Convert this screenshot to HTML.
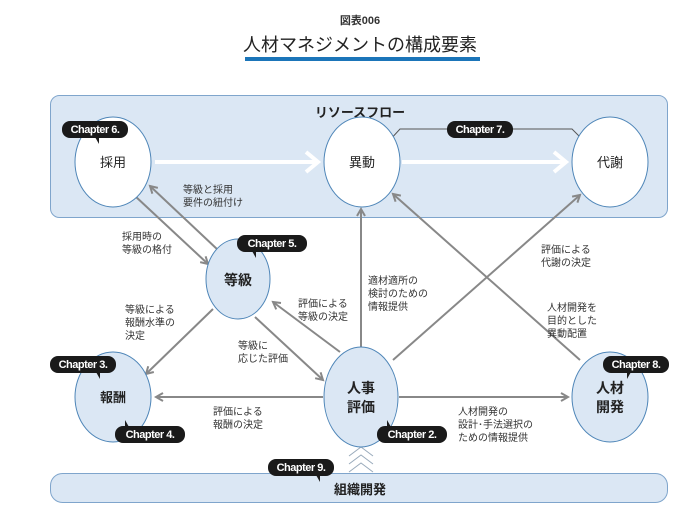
<!DOCTYPE html>
<html><head><meta charset="utf-8"><style>
html,body{margin:0;padding:0;background:#fff}
svg{display:block}
text{font-family:"Liberation Sans","Noto Sans CJK JP",sans-serif}
.l{font-size:10px;fill:#333}
.b{font-weight:bold}
.ch{font-size:11px;font-weight:bold;fill:#fff;text-anchor:middle;letter-spacing:-0.5px}
</style></head><body>
<svg width="700" height="523" viewBox="0 0 700 523">
<defs>
<marker id="a" markerWidth="10" markerHeight="10" refX="8" refY="5" orient="auto" markerUnits="userSpaceOnUse">
<path d="M1,1 L8,5 L1,9" fill="none" stroke="#888" stroke-width="2"/></marker>
<marker id="w" markerWidth="20" markerHeight="24" refX="16" refY="12" orient="auto" markerUnits="userSpaceOnUse">
<path d="M4,2 L16,12 L4,22" fill="none" stroke="#fff" stroke-width="4"/></marker>
</defs>
<text x="360" y="24" text-anchor="middle" class="b" font-size="11" fill="#333">図表006</text>
<text x="360" y="51" text-anchor="middle" font-size="18" fill="#222">人材マネジメントの構成要素</text>
<rect x="245" y="57" width="235" height="4" fill="#1b75b9"/>

<rect x="50.5" y="95.5" width="617" height="122" rx="9" fill="#dbe7f4" stroke="#7fa5cc"/>
<text x="360" y="117" text-anchor="middle" class="b" font-size="13" fill="#222">リソースフロー</text>
<rect x="50.5" y="473.5" width="617" height="29" rx="12" fill="#dbe7f4" stroke="#7fa5cc"/>
<text x="360" y="494" text-anchor="middle" class="b" font-size="13" fill="#222">組織開発</text>

<line x1="155" y1="162" x2="318" y2="162" stroke="#fff" stroke-width="4" marker-end="url(#w)"/>
<line x1="402" y1="162" x2="566" y2="162" stroke="#fff" stroke-width="4" marker-end="url(#w)"/>
<polyline points="388,142 400,129 572,129 586,143" fill="none" stroke="#555" stroke-width="1"/>

<g stroke="#888" stroke-width="2" fill="none" marker-end="url(#a)">
<line x1="135" y1="196" x2="208" y2="264"/>
<line x1="218" y1="250" x2="150" y2="186"/>
<line x1="213" y1="309" x2="146" y2="374"/>
<line x1="255" y1="317" x2="323" y2="380"/>
<line x1="340" y1="352" x2="273" y2="302"/>
<line x1="361" y1="347" x2="361" y2="209"/>
<line x1="393" y1="360" x2="580" y2="195"/>
<line x1="580" y1="360" x2="393" y2="194"/>
<line x1="323" y1="397" x2="156" y2="397"/>
<line x1="399" y1="397" x2="568" y2="397"/>
</g>
<g fill="none" stroke="#9ab" stroke-width="1">
<polyline points="349,456 361,447 373,456"/>
<polyline points="349,464 361,455 373,464"/>
<polyline points="349,472 361,463 373,472"/>
</g>

<g stroke="#4f86b8" stroke-width="1">
<ellipse cx="113" cy="162" rx="38" ry="45" fill="#fff"/>
<ellipse cx="362" cy="162" rx="38" ry="45" fill="#fff"/>
<ellipse cx="610" cy="162" rx="38" ry="45" fill="#fff"/>
<ellipse cx="238" cy="279" rx="32" ry="40" fill="#dbe7f4"/>
<ellipse cx="113" cy="397" rx="38" ry="45" fill="#dbe7f4"/>
<ellipse cx="361" cy="397" rx="37" ry="50" fill="#dbe7f4"/>
<ellipse cx="610" cy="397" rx="38" ry="45" fill="#dbe7f4"/>
</g>
<g font-size="13" fill="#222" text-anchor="middle">
<text x="113" y="167">採用</text>
<text x="362" y="167">異動</text>
<text x="610" y="167">代謝</text>
<text x="238" y="285" class="b" font-size="14">等級</text>
<text x="113" y="402" class="b">報酬</text>
<text x="361" y="393" class="b" font-size="14">人事</text>
<text x="361" y="412" class="b" font-size="14">評価</text>
<text x="610" y="393" class="b" font-size="14">人材</text>
<text x="610" y="412" class="b" font-size="14">開発</text>
</g>

<g class="l">
<text x="183" y="193">等級と採用</text><text x="183" y="206">要件の紐付け</text>
<text x="122" y="240">採用時の</text><text x="122" y="253">等級の格付</text>
<text x="125" y="313">等級による</text><text x="125" y="326">報酬水準の</text><text x="125" y="339">決定</text>
<text x="298" y="307">評価による</text><text x="298" y="320">等級の決定</text>
<text x="238" y="349">等級に</text><text x="238" y="362">応じた評価</text>
<text x="368" y="284">適材適所の</text><text x="368" y="297">検討のための</text><text x="368" y="310">情報提供</text>
<text x="541" y="253">評価による</text><text x="541" y="266">代謝の決定</text>
<text x="547" y="311">人材開発を</text><text x="547" y="324">目的とした</text><text x="547" y="337">異動配置</text>
<text x="213" y="415">評価による</text><text x="213" y="428">報酬の決定</text>
<text x="458" y="415">人材開発の</text><text x="458" y="428">設計･手法選択の</text><text x="458" y="441">ための情報提供</text>
</g>

<g fill="#1a1a1a">
<rect x="62" y="121" width="66" height="17" rx="8"/><path d="M95,137 l4,0 l0,7 z"/>
<rect x="447" y="121" width="66" height="17" rx="8"/>
<rect x="237" y="235" width="70" height="17" rx="8"/><path d="M252,251 l4,0 l0,7 z"/>
<rect x="50" y="356" width="66" height="17" rx="8"/><path d="M96,372 l4,0 l0,7 z"/>
<rect x="115" y="426" width="70" height="17" rx="8"/><path d="M125,427 l4,0 l-4,-7 z"/>
<rect x="377" y="426" width="70" height="17" rx="8"/><path d="M387,427 l4,0 l-4,-7 z"/>
<rect x="603" y="356" width="66" height="17" rx="8"/><path d="M627,372 l4,0 l-4,7 z"/>
<rect x="268" y="459" width="66" height="17" rx="8"/><path d="M316,475 l4,0 l0,7 z"/>
</g>
<g class="ch">
<text x="95" y="133">Chapter 6.</text>
<text x="480" y="133">Chapter 7.</text>
<text x="272" y="247">Chapter 5.</text>
<text x="83" y="368">Chapter 3.</text>
<text x="150" y="438">Chapter 4.</text>
<text x="412" y="438">Chapter 2.</text>
<text x="636" y="368">Chapter 8.</text>
<text x="301" y="471">Chapter 9.</text>
</g>
</svg>
</body></html>
